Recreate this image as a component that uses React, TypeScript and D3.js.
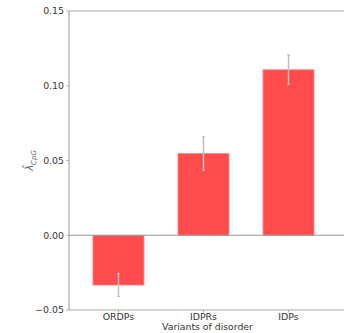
import React from "react";
import * as d3 from "d3";

const categories = ["ORDPs", "IDPRs", "IDPs"];
const values = [-0.0333, 0.0547, 0.1107];
const errors = [0.0077, 0.0112, 0.0100];
const yTicks = [-0.05, 0.0, 0.05, 0.1, 0.15];

export default function App() {
  const W = 344, H = 333;
  const left = 69, right = 346, top = 11, bottom = 310;
  const x = d3.scaleLinear().domain([-0.582, 2.676]).range([left, right]);
  const y = d3.scaleLinear().domain([-0.05, 0.15]).range([bottom, top]);
  const barW = x(0.6) - x(0);
  const fmt = (v: number) => (v < 0 ? "\u2212" : "") + Math.abs(v).toFixed(2);
  const font = "DejaVu Sans, sans-serif";
  const axisColor = "#aaaaaa";
  return (
    <svg width={W} height={H} style={{ position: "absolute", left: 0, top: 0 }}>
      <rect x={0} y={0} width={W} height={H} fill="#fff" />
      {categories.map((c, i) => {
        const v = values[i];
        const y0 = y(Math.max(0, v));
        const h = Math.abs(y(v) - y(0));
        return (
          <rect key={c} x={x(i) - barW / 2} y={y0} width={barW} height={h}
            fill="#ff4b4b" stroke="#ff8a8a" strokeWidth={0.8} />
        );
      })}
      {/* zero line */}
      <line x1={left} x2={W} y1={y(0)} y2={y(0)} stroke="#999" strokeWidth={1.2} />
      {/* error bars */}
      {categories.map((c, i) => {
        const cx = x(i);
        const y1 = y(values[i] + errors[i]);
        const y2 = y(values[i] - errors[i]);
        return (
          <g key={c + "e"} stroke="#bdbdbd">
            <line x1={cx} x2={cx} y1={y1} y2={y2} strokeWidth={1.5} />
            <line x1={cx - 1.5} x2={cx + 1.5} y1={y1} y2={y1} strokeWidth={1} />
            <line x1={cx - 1.5} x2={cx + 1.5} y1={y2} y2={y2} strokeWidth={1} />
          </g>
        );
      })}
      {/* frame */}
      <line x1={left} x2={W} y1={top} y2={top} stroke={axisColor} strokeWidth={1.2} />
      <line x1={left} x2={W} y1={bottom} y2={bottom} stroke={axisColor} strokeWidth={1.2} />
      <line x1={left} x2={left} y1={top} y2={bottom} stroke={axisColor} strokeWidth={1.2} />
      {/* y ticks */}
      {yTicks.map((t) => (
        <g key={t}>
          <line x1={left - 2.5} x2={left} y1={y(t)} y2={y(t)} stroke={axisColor} strokeWidth={1} />
          <text x={left - 5} y={y(t)} dy="0.35em" textAnchor="end" fontFamily={font}
            fontSize={9.4} fill="#333">{fmt(t)}</text>
        </g>
      ))}
      {/* x ticks */}
      {categories.map((c, i) => (
        <g key={c + "t"}>
          <line x1={x(i)} x2={x(i)} y1={bottom} y2={bottom + 2.5} stroke={axisColor} strokeWidth={1} />
          <text x={x(i)} y={319.5} textAnchor="middle" fontFamily={font} fontSize={9.4} fill="#333">{c}</text>
        </g>
      ))}
      <text x={(left + right) / 2} y={330} textAnchor="middle" fontFamily={font} fontSize={9.3} fill="#333">
        Variants of disorder
      </text>
      <text transform={`translate(33, ${(top + bottom) / 2}) rotate(-90)`} textAnchor="middle"
        fontFamily={font} fontSize={10} fill="#666">
        <tspan fontStyle="italic">{"\u03bb\u0302"}</tspan>
        <tspan fontStyle="italic" fontSize={7} dy={2.5}>CpG</tspan>
      </text>
    </svg>
  );
}
